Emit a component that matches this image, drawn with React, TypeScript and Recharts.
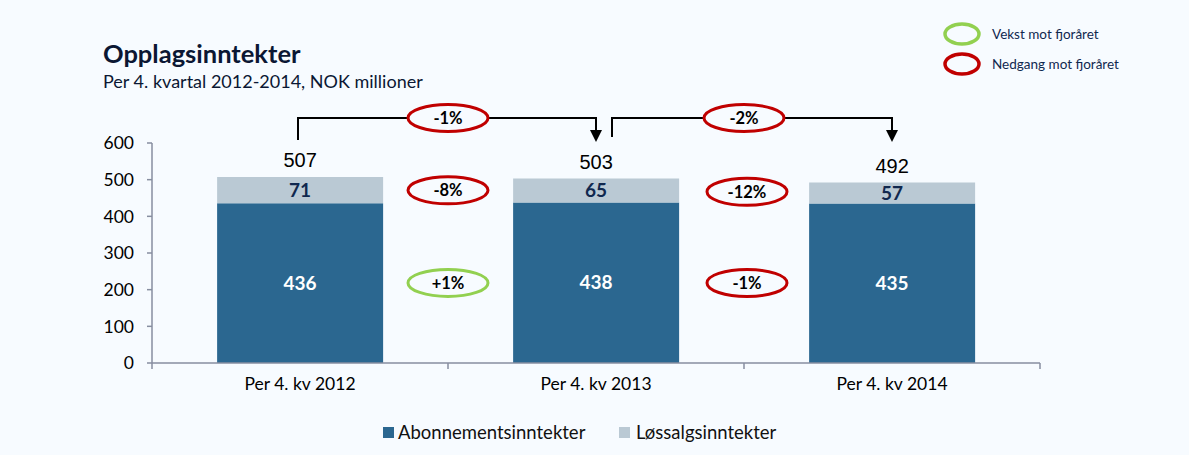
import { Bar, BarChart, Customized, LabelList, XAxis, YAxis } from 'recharts'

const CATEGORIES = ['Per 4. kv 2012', 'Per 4. kv 2013', 'Per 4. kv 2014']
const ABONNEMENT = [436, 438, 435]
const LOSSALG = [71, 65, 57]
const TOTALS = [507, 503, 492]
// endring mot fjoråret, mellom søylene
const TOTAL_CHANGE = ['-1%', '-2%']
const LOSSALG_CHANGE = ['-8%', '-12%']
const ABONNEMENT_CHANGE = ['+1%', '-1%']
const Y_TICKS = [0, 100, 200, 300, 400, 500, 600]

const W = 1189
const H = 455
const MARGIN = { top: 143, right: 149, bottom: 62, left: 102 }
const Y_AXIS_W = 50
const X_AXIS_H = 30
const PLOT_LEFT = MARGIN.left + Y_AXIS_W
const PLOT_TOP = MARGIN.top
const PLOT_W = W - PLOT_LEFT - MARGIN.right
const PLOT_H = H - MARGIN.top - MARGIN.bottom - X_AXIS_H
const Y_MAX = 600

const BG = '#f7fbff'
const DARK = '#2b6790'
const LIGHT = '#bac9d4'
const NAVY = '#10284f'
const TITLE = '#0b1733'
const RED = '#c00000'
const GREEN = '#92d050'
const AXIS = '#878ea0'
const FONT = 'Lato, "Open Sans", sans-serif'

const data = CATEGORIES.map((name, i) => ({
  name,
  abonnement: ABONNEMENT[i],
  lossalg: LOSSALG[i],
}))

const band = PLOT_W / CATEGORIES.length
const cx = (i: number) => PLOT_LEFT + band * (i + 0.5)
const yPx = (v: number) => PLOT_TOP + PLOT_H * (1 - v / Y_MAX)

function ChangeEllipse({ x, y, text, rx = 40, ry = 13.5 }: { x: number; y: number; text: string; rx?: number; ry?: number }) {
  const color = text.startsWith('+') ? GREEN : RED
  return (
    <g>
      <ellipse cx={x} cy={y} rx={rx} ry={ry} fill={BG} stroke={color} strokeWidth={3} />
      <text x={x} y={y} dy="0.36em" textAnchor="middle" fontFamily={FONT} fontWeight={700} fontSize={16.5} fill="#000">
        {text}
      </text>
    </g>
  )
}

function Annotations() {
  const lineY = PLOT_TOP - 25
  const tipY = PLOT_TOP - 1
  return (
    <g>
      {/* tittel */}
      <text x={103} y={63} fontFamily={FONT} fontWeight={700} fontSize={25.5} fill={TITLE}>
        Opplagsinntekter
      </text>
      <text x={103} y={88} fontFamily={FONT} fontSize={18} fill={TITLE}>
        Per 4. kvartal 2012-2014, NOK millioner
      </text>

      {/* x-akse ticks mellom kategoriene */}
      {CATEGORIES.map((_, k) => (
        <line key={k} x1={PLOT_LEFT + band * k} x2={PLOT_LEFT + band * k} y1={PLOT_TOP + PLOT_H} y2={PLOT_TOP + PLOT_H + 6} stroke={AXIS} strokeWidth={1.5} />
      ))}
      <line x1={PLOT_LEFT + PLOT_W} x2={PLOT_LEFT + PLOT_W} y1={PLOT_TOP + PLOT_H} y2={PLOT_TOP + PLOT_H + 6} stroke={AXIS} strokeWidth={1.5} />

      {/* klammer for total endring */}
      {TOTAL_CHANGE.map((t, i) => {
        const x0 = cx(i) + (i === 0 ? -2 : 16)
        const x1 = cx(i + 1)
        const startY = i === 0 ? PLOT_TOP - 3 : PLOT_TOP - 6
        return (
          <g key={t + i}>
            <polyline points={`${x0},${startY} ${x0},${lineY} ${x1},${lineY} ${x1},${tipY - 12}`} fill="none" stroke="#000" strokeWidth={2} />
            <polygon points={`${x1},${tipY} ${x1 - 6},${tipY - 12} ${x1 + 6},${tipY - 12}`} fill="#000" />
            <ChangeEllipse x={PLOT_LEFT + band * (i + 1)} y={lineY} text={t} />
          </g>
        )
      })}

      {LOSSALG_CHANGE.map((t, i) => {
        const mid = (ABONNEMENT[i] + TOTALS[i] + ABONNEMENT[i + 1] + TOTALS[i + 1]) / 4
        return <ChangeEllipse key={'l' + i} x={PLOT_LEFT + band * (i + 1) + i * 3} y={yPx(mid)} text={t} />
      })}
      {ABONNEMENT_CHANGE.map((t, i) => {
        const mid = (ABONNEMENT[i] + ABONNEMENT[i + 1]) / 4
        return <ChangeEllipse key={'a' + i} x={PLOT_LEFT + band * (i + 1) + i * 3} y={yPx(mid)} text={t} />
      })}

      {/* forklaring øverst til høyre */}
      <ellipse cx={962} cy={34} rx={17} ry={10} fill={BG} stroke={GREEN} strokeWidth={3.5} />
      <text x={992} y={39} fontFamily={FONT} fontSize={13.5} fill={NAVY}>Vekst mot fjoråret</text>
      <ellipse cx={962} cy={64} rx={17} ry={10} fill={BG} stroke={RED} strokeWidth={3.5} />
      <text x={992} y={69} fontFamily={FONT} fontSize={13.5} fill={NAVY}>Nedgang mot fjoråret</text>

      {/* forklaring nederst */}
      <rect x={383} y={427} width={11} height={11} fill={DARK} />
      <text x={398} y={439} fontFamily={FONT} fontSize={18.5} fill="#111">Abonnementsinntekter</text>
      <rect x={619} y={427} width={11} height={11} fill={LIGHT} />
      <text x={636} y={439} fontFamily={FONT} fontSize={18.5} fill="#111">Løssalgsinntekter</text>
    </g>
  )
}

function TotalLabel(props: any) {
  const { x, y, width, index } = props
  return (
    <text x={x + width / 2} y={y - 10} textAnchor="middle" fontFamily='"Liberation Sans", Arial, sans-serif' fontSize={20} fill="#000">
      {TOTALS[index]}
    </text>
  )
}

export default function App() {
  return (
    <div style={{ position: 'absolute', left: 0, top: 0, width: W, height: H, background: BG }}>
      <BarChart width={W} height={H} data={data} margin={MARGIN} barCategoryGap="22%">
        <XAxis
          dataKey="name"
          height={X_AXIS_H}
          stroke={AXIS}
          strokeWidth={1.5}
          tickLine={false}
          tickSize={6}
          tickMargin={9}
          tick={{ fill: '#000', fontSize: 17.5, fontFamily: FONT }}
        />
        <YAxis
          width={Y_AXIS_W}
          domain={[0, Y_MAX]}
          ticks={Y_TICKS}
          interval={0}
          stroke={AXIS}
          strokeWidth={1.5}
          tickSize={5}
          tickMargin={13}
          tick={{ fill: '#000', fontSize: 17.5, fontFamily: FONT }}
        />
        <Bar dataKey="abonnement" stackId="a" fill={DARK} isAnimationActive={false}>
          <LabelList dataKey="abonnement" position="center" fill="#fff" fontSize={19} fontWeight={700} fontFamily={FONT} />
        </Bar>
        <Bar dataKey="lossalg" stackId="a" fill={LIGHT} isAnimationActive={false}>
          <LabelList dataKey="lossalg" position="center" fill={NAVY} fontSize={19} fontWeight={700} fontFamily={FONT} />
          <LabelList dataKey="lossalg" content={TotalLabel} />
        </Bar>
        <Customized component={Annotations} />
      </BarChart>
    </div>
  )
}
